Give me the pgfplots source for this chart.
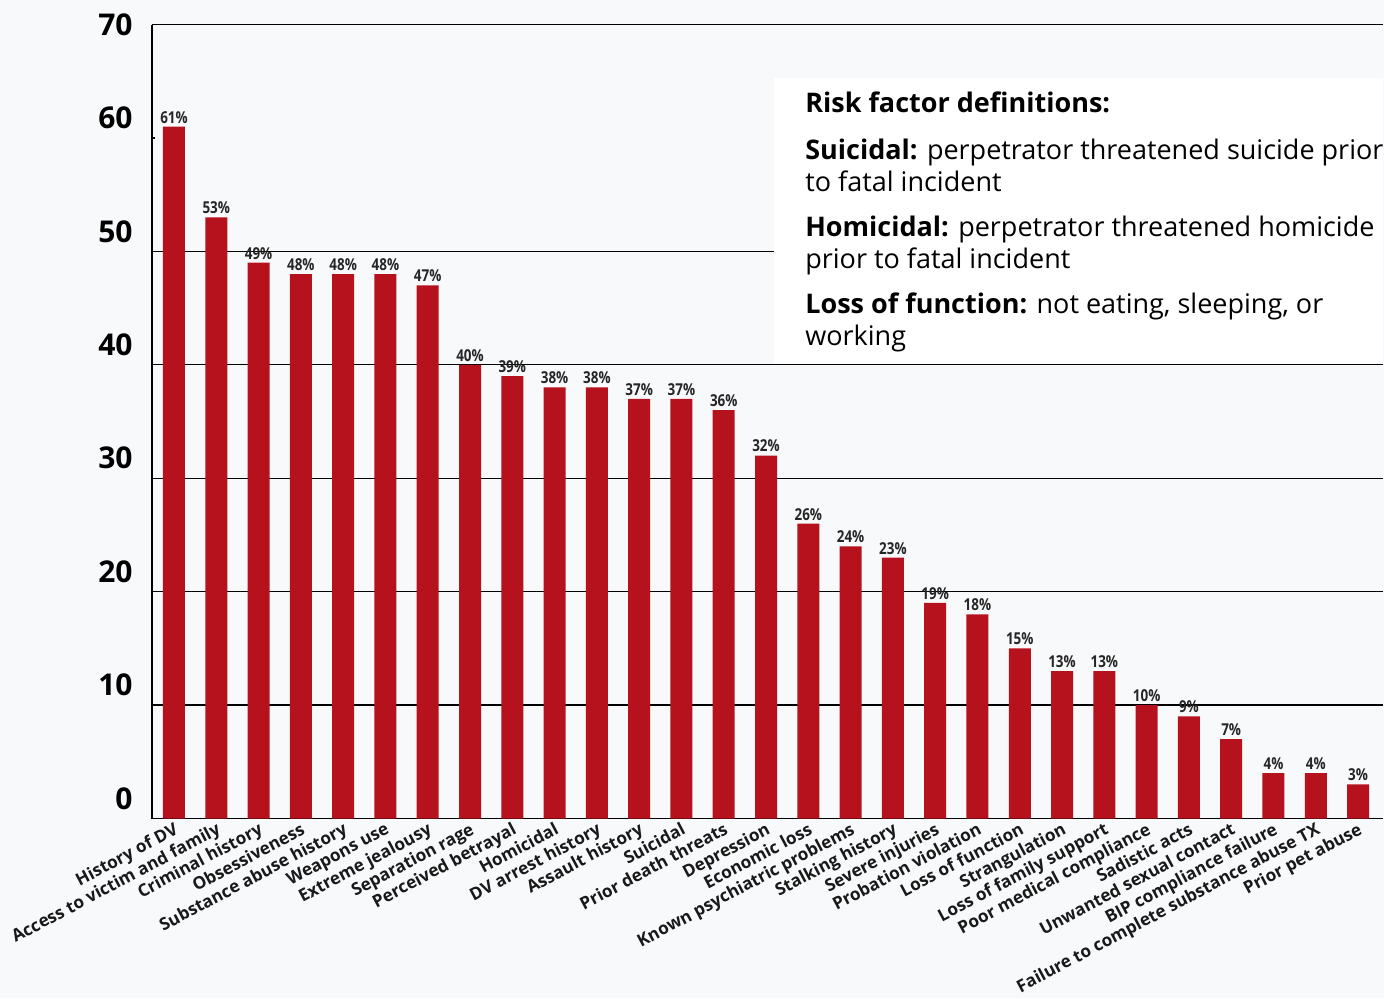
\documentclass[border=0pt]{standalone}
\usepackage{fontspec}
\setmainfont{Open Sans}
\newfontfamily\condfont[FakeStretch=0.82]{Open Sans}
\usepackage{pgfplots}
\pgfplotsset{compat=1.18}
\definecolor{barred}{RGB}{181,18,30}
\definecolor{bg}{RGB}{248,249,251}
\begin{document}
\begin{tikzpicture}
\fill[bg] (-76pt,-89.75pt) rectangle (616pt,409.25pt);
\begin{axis}[at={(0,0)}, anchor=south west, scale only axis,
  width=615.5pt, height=397pt,
  xmin=-0.52, xmax=28.59, ymin=0, ymax=70,
  axis lines*=left, axis line style={black, line width=0.8pt},
  ytick={0,10,...,60}, extra y ticks={70},
  ymajorgrids, grid style={black, line width=0.6pt},
  major tick length=0pt,
  xtick={0,...,28},
  xticklabels={History of DV, Access to victim and family, Criminal history, Obsessiveness, Substance abuse history, Weapons use, Extreme jealousy, Separation rage, Perceived betrayal, Homicidal, DV arrest history, Assault history, Suicidal, Prior death threats, Depression, Economic loss, Known psychiatric problems, Stalking history, Severe injuries, Probation violation, Loss of function, Strangulation, Loss of family support, Poor medical compliance, Sadistic acts, Unwanted sexual contact, BIP compliance failure, Failure to complete substance abuse TX, Prior pet abuse},
  xticklabel style={font=\bfseries\fontsize{8.6}{10}\selectfont, text=black!90, rotate=28, anchor=north east, inner sep=1pt},
  yticklabel style={font=\bfseries\fontsize{15}{16}\selectfont, anchor=east, inner sep=0pt, xshift=-9.5pt, yshift=10pt},
  extra y tick style={yticklabel style={yshift=-10pt}},
  /pgf/number format/assume math mode=true,
  ybar, bar width=11pt,
  nodes near coords={\pgfmathprintnumber{\pgfplotspointmeta}\%},
  every node near coord/.append style={font=\condfont\bfseries\fontsize{8.2}{9}\selectfont, text=black!85, inner sep=1.5pt},
]
\draw[bg, line width=1pt] (axis cs:-0.45,60) -- (axis cs:28.59,60);
\addplot[fill=barred, draw=none] coordinates {
(0,61) (1,53) (2,49) (3,48) (4,48) (5,48) (6,47) (7,40) (8,39) (9,38)
(10,38) (11,37) (12,37) (13,36) (14,32) (15,26) (16,24) (17,23) (18,19) (19,18)
(20,15) (21,13) (22,13) (23,10) (24,9) (25,7) (26,4) (27,4) (28,3)};
\fill[white] (axis cs:14.2,40.08) rectangle (axis cs:28.59,65.3);
\node[anchor=north west, align=left, inner sep=0pt, font=\fontsize{13.5}{16}\selectfont] at (axis cs:14.92,64.1)
{\textbf{Risk factor definitions:}\\[7.5pt]
\textbf{Suicidal:} perpetrator threatened suicide prior\\
to fatal incident\\[6.5pt]
\textbf{Homicidal:} perpetrator threatened homicide\\
prior to fatal incident\\[6.5pt]
\textbf{Loss of function:} not eating, sleeping, or\\
working};
\end{axis}
\pgfresetboundingbox
\path (-76pt,-89.75pt) rectangle (616pt,409.25pt);
\end{tikzpicture}
\end{document}
